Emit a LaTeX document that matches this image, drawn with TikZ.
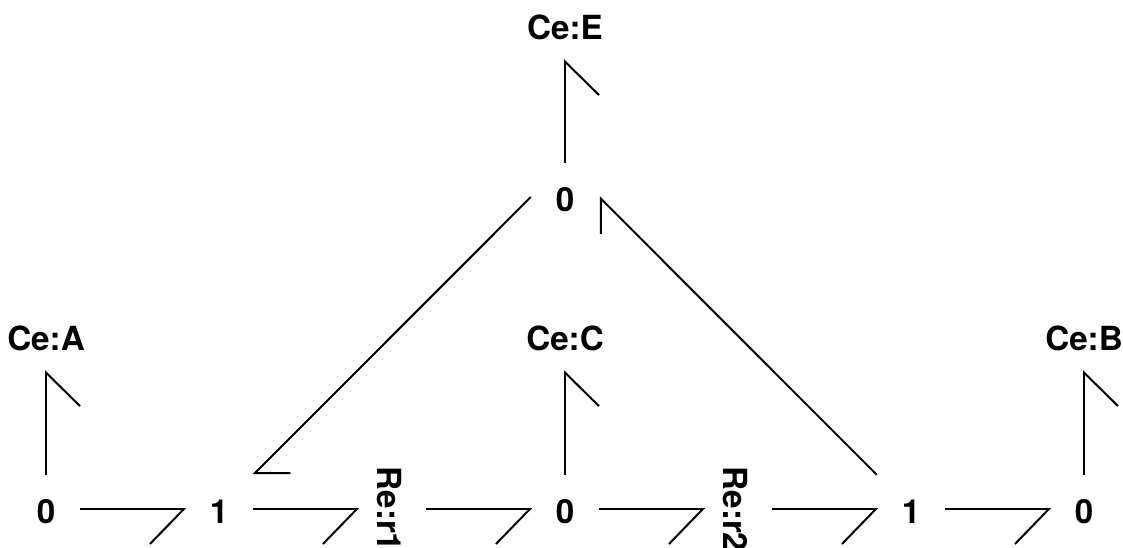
\documentclass[tikz,border=0pt]{standalone}
\usepackage{fontspec}
\setmainfont{TeX Gyre Heros}
\usetikzlibrary{arrows.meta}
\tikzset{
  port/.style={inner sep=0pt, minimum width=68pt, minimum height=68pt,
    text height=29pt, text depth=0pt, font=\fontsize{33.2}{36}\selectfont\bfseries},
  bond/.style={line width=2pt, shorten >=-1.5pt, -{Straight Barb[harpoon, swap, length=34pt, width=70pt]}},
  vbond/.style={line width=2pt, -{Straight Barb[harpoon, swap, length=33.5pt, width=68pt]}},
  diagbond/.style={line width=2pt, -{Straight Barb[harpoon, length=25pt, width=50pt]}}
}
\begin{document}
\begin{tikzpicture}[x=1pt,y=-1pt]
\path[use as bounding box, clip] (0,0) rectangle (1123,548);
\node[port] (za) at (46,509) {0};
\node[port] (oa) at (219,509) {1};
\node[port, rotate=-90] (r1) at (392,509) {Re:r1};
\node[port] (zc) at (565,509) {0};
\node[port, rotate=-90] (r2) at (738,509) {Re:r2};
\node[port] (ob) at (911,509) {1};
\node[port] (zb) at (1084,509) {0};
\node[port] (cea) at (46,336) {Ce:A};
\node[port] (cec) at (565,336) {Ce:C};
\node[port] (ceb) at (1084,336) {Ce:B};
\node[port] (zt) at (565,197) {0};
\node[port] (cee) at (565,25) {Ce:E};
\draw[bond] (za.east) -- (oa.west);
\draw[bond] (oa.east) -- (r1.south);
\draw[bond] (r1.north) -- (zc.west);
\draw[bond] (zc.east) -- (r2.south);
\draw[bond] (r2.north) -- (ob.west);
\draw[bond] (ob.east) -- (zb.west);
\draw[vbond] (za.north) -- (cea.south);
\draw[vbond] (zc.north) -- (cec.south);
\draw[vbond] (zb.north) -- (ceb.south);
\draw[vbond] (zt.north) -- (cee.south);
\draw[diagbond] (zt.west) -- (oa.north east);
\draw[diagbond] (ob.north west) -- (zt.east);
\end{tikzpicture}
\end{document}
